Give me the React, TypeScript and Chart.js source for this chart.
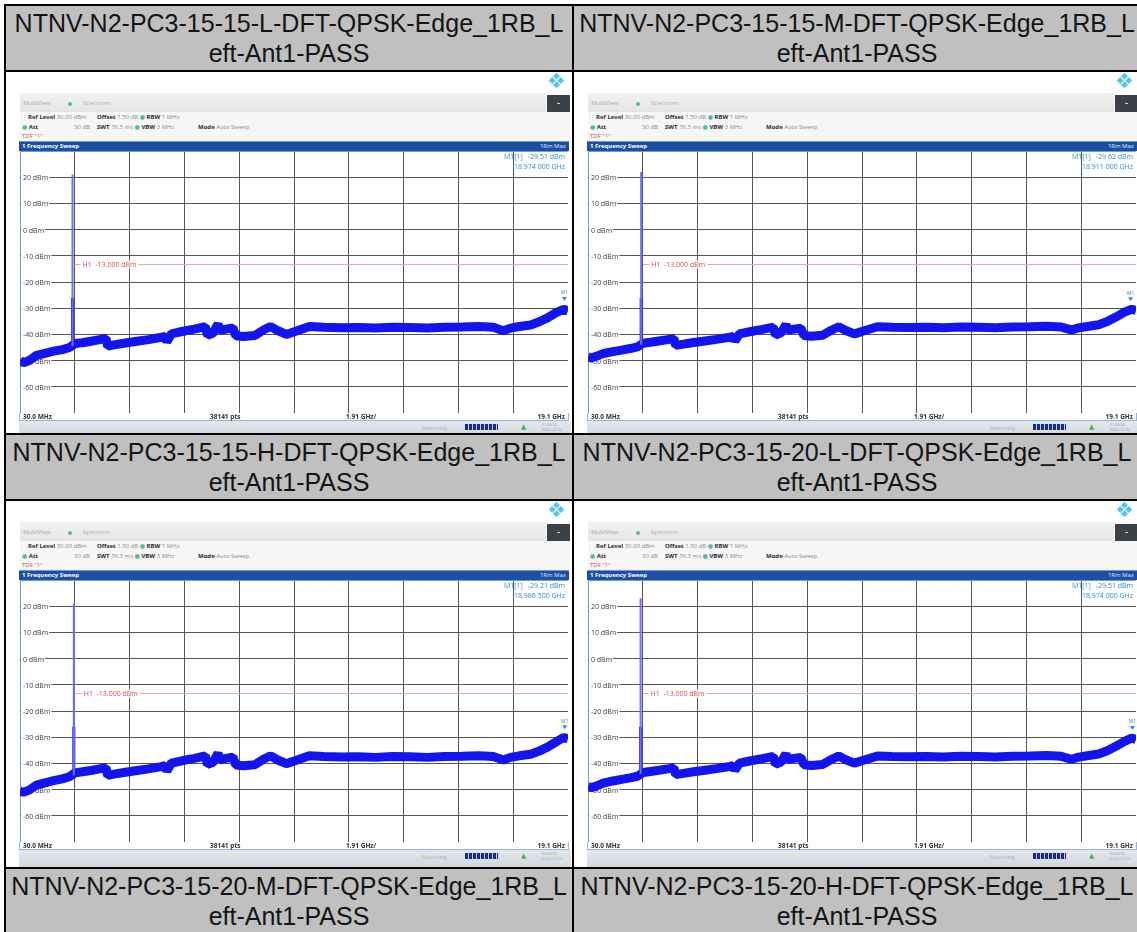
import React, { useEffect, useRef } from 'react';
import { Chart, registerables } from 'chart.js';

Chart.register(...registerables);

// ---------- data ----------
const TITLES = [
  'NTNV-N2-PC3-15-15-L-DFT-QPSK-Edge_1RB_Left-Ant1-PASS',
  'NTNV-N2-PC3-15-15-M-DFT-QPSK-Edge_1RB_Left-Ant1-PASS',
  'NTNV-N2-PC3-15-15-H-DFT-QPSK-Edge_1RB_Left-Ant1-PASS',
  'NTNV-N2-PC3-15-20-L-DFT-QPSK-Edge_1RB_Left-Ant1-PASS',
  'NTNV-N2-PC3-15-20-M-DFT-QPSK-Edge_1RB_Left-Ant1-PASS',
  'NTNV-N2-PC3-15-20-H-DFT-QPSK-Edge_1RB_Left-Ant1-PASS',
];

const X_MIN_GHZ = 0.03;
const X_MAX_GHZ = 19.1;
const X_DIVS_GHZ = [0.03, 1.937, 3.844, 5.751, 7.658, 9.565, 11.472, 13.379, 15.286, 17.193, 19.1];
const Y_MIN_DBM = -70;
const Y_MAX_DBM = 30;
const Y_LABEL_TICKS = [20, 10, 0, -10, -20, -30, -40, -50, -60];
const LIMIT_DBM = -13;
const LIMIT_LABEL = 'H1  -13.000 dBm';
const FREQ_BAR_LABELS = ['30.0 MHz', '38141 pts', '1.91 GHz/', '19.1 GHz'];

const TRACE_GHZ = [
  0.03, 0.15, 0.35, 0.6, 0.9, 1.2, 1.5, 1.75, 1.95, 2.2,
  2.5, 2.8, 3.02, 3.08, 3.3, 3.7, 4.1, 4.5, 4.9, 5.08,
  5.14, 5.3, 5.7, 6.1, 6.48, 6.55, 6.75, 6.92, 6.98, 7.2,
  7.44, 7.54, 7.8, 8.2, 8.5, 8.75, 9.0, 9.3, 9.7, 10.1,
  10.6, 11.2, 11.8, 12.4, 13.0, 13.6, 14.2, 14.8, 15.4, 16.0,
  16.5, 16.85, 17.1, 17.4, 17.8, 18.1, 18.4, 18.7, 18.95, 19.1,
];

const TRACE_15_15_L = [
  -50, -50.8, -50, -48, -47.2, -46.4, -45.8, -45, -43.5, -43.2,
  -42.6, -42, -41.5, -44.5, -44, -43.3, -42.6, -42, -41.2, -40.8,
  -42.8, -39.8, -38.8, -38, -37, -40.3, -39.5, -36, -38.5, -38,
  -37.5, -40.5, -40.8, -40.4, -38.3, -37, -38.6, -40, -38.5, -37,
  -37.3, -37.5, -37.4, -37.6, -37.3, -37.4, -37.6, -37.3, -37.2, -37,
  -37.3, -38.6, -37.6, -37, -36.4, -35.2, -33.6, -31.6, -30.4, -31,
];
const TRACE_15_15_M = [
  -48.5, -49, -48.2, -47.2, -46.6, -46, -45.4, -44.8, -43.4, -43,
  -42.5, -42, -41.6, -44.2, -43.8, -43.1, -42.5, -41.9, -41.2, -40.8,
  -42.5, -39.8, -38.9, -38.1, -37.2, -40.2, -39.4, -36.2, -38.4, -38,
  -37.6, -40.4, -40.7, -40.3, -38.4, -37.1, -38.5, -39.8, -38.4, -37.1,
  -37.3, -37.4, -37.3, -37.5, -37.2, -37.3, -37.5, -37.2, -37.1, -36.9,
  -37.2, -38.3, -37.5, -37, -36.3, -35.1, -33.4, -31.5, -30.4, -30.8,
];
const TRACE_15_15_H = [
  -50.6, -51, -50.2, -48.3, -47.4, -46.6, -45.9, -45.1, -43.6, -43.2,
  -42.7, -42.1, -41.6, -44.6, -44.1, -43.4, -42.7, -42.1, -41.3, -40.9,
  -42.9, -39.9, -38.9, -38.1, -37.1, -40.4, -39.6, -36.1, -38.6, -38.1,
  -37.6, -40.6, -40.9, -40.5, -38.4, -37.1, -38.7, -40.1, -38.6, -37.1,
  -37.4, -37.6, -37.5, -37.7, -37.4, -37.5, -37.7, -37.4, -37.3, -37.1,
  -37.4, -38.7, -37.7, -37.1, -36.5, -35.3, -33.7, -31.7, -30.1, -30.6,
];
const TRACE_15_20_L = [
  -48.8, -49.3, -48.5, -47.4, -46.7, -46.1, -45.5, -44.9, -43.5, -43.1,
  -42.6, -42.1, -41.7, -44.3, -43.9, -43.2, -42.6, -42, -41.3, -40.9,
  -42.6, -39.9, -39, -38.2, -37.3, -40.3, -39.5, -36.3, -38.5, -38.1,
  -37.7, -40.5, -40.8, -40.4, -38.5, -37.2, -38.6, -39.9, -38.5, -37.2,
  -37.4, -37.5, -37.4, -37.6, -37.3, -37.4, -37.6, -37.3, -37.2, -37,
  -37.3, -38.4, -37.6, -37.1, -36.4, -35.2, -33.5, -31.6, -30.3, -30.9,
];
const TRACES = [TRACE_15_15_L, TRACE_15_15_M, TRACE_15_15_H, TRACE_15_20_L];

const SPIKE_GHZ = [1.8575, 1.88, 1.9025, 1.86];
const SPIKE_BASE_DBM = [-44.5, -44, -44.6, -44];
const SPIKE_MID_DBM = [-26, -26, -26, -26];
const SPIKE_TOP_DBM = [21, 22, 21, 23];

const MARKER_DBM = [-29.51, -29.62, -29.21, -29.51];
const MARKER_GHZ = [18.974, 18.911, 18.9865, 18.974];
const MARKER_FREQ_LABELS = ['18.974 000 GHz', '18.911 000 GHz', '18.986 500 GHz', '18.974 000 GHz'];

// ---------- layout ----------
const SMALL_FONT = '"Open Sans", "DejaVu Sans", sans-serif';
const PL = 14, PT = 79, PW = 548, PH = 262;

function makeConfig(p: number): any {
  const trace = TRACES[p];
  const plugin = {
    id: 'decor',
    beforeDatasetsDraw(chart: any) {
      const { ctx, chartArea, scales } = chart;
      const { left, right } = chartArea;
      const x = scales.x, y = scales.y;
      ctx.save();
      ctx.font = `7px ${SMALL_FONT}`;
      ctx.textBaseline = 'middle';
      ctx.textAlign = 'left';
      for (const v of Y_LABEL_TICKS) {
        const py = Math.round(y.getPixelForValue(v)) + 0.5;
        const label = `${v} dBm`;
        const w = ctx.measureText(label).width;
        ctx.fillStyle = '#ffffff';
        ctx.fillRect(left + 1, py - 4, w + 3, 8);
        ctx.fillStyle = '#3c3c3c';
        ctx.fillText(label, left + 3, py);
      }
      const ly = Math.round(y.getPixelForValue(LIMIT_DBM)) + 0.5;
      const lx0 = x.getPixelForValue(SPIKE_GHZ[p]) + 2;
      ctx.strokeStyle = '#f3a3a3';
      ctx.lineWidth = 1;
      ctx.beginPath();
      ctx.moveTo(lx0, ly);
      ctx.lineTo(right, ly);
      ctx.stroke();
      const lw = ctx.measureText(LIMIT_LABEL).width;
      ctx.fillStyle = '#ffffff';
      ctx.fillRect(lx0 + 6, ly - 4, lw + 4, 8);
      ctx.fillStyle = '#e24a4a';
      ctx.fillText(LIMIT_LABEL, lx0 + 8, ly);
      ctx.restore();
    },
    afterDraw(chart: any) {
      const { ctx, chartArea, scales } = chart;
      const { right, top } = chartArea;
      const x = scales.x, y = scales.y;
      ctx.save();
      ctx.font = `7px ${SMALL_FONT}`;
      ctx.textBaseline = 'middle';
      ctx.fillStyle = '#2f8ad8';
      ctx.textAlign = 'left';
      ctx.fillText('M1[1]', right - 64, top + 6);
      ctx.textAlign = 'right';
      ctx.fillText(`${MARKER_DBM[p].toFixed(2)} dBm`, right - 3, top + 6);
      ctx.fillText(MARKER_FREQ_LABELS[p], right - 3, top + 16);
      const mx = x.getPixelForValue(MARKER_GHZ[p]);
      const my = y.getPixelForValue(MARKER_DBM[p]) - 7;
      ctx.beginPath();
      ctx.moveTo(mx - 2.5, my - 3);
      ctx.lineTo(mx + 2.5, my - 3);
      ctx.lineTo(mx, my + 1);
      ctx.closePath();
      ctx.fill();
      ctx.font = `5px ${SMALL_FONT}`;
      ctx.textAlign = 'center';
      ctx.fillText('M1', mx, my - 7);
      ctx.restore();
    },
  };
  const edge = (c: any) => (c.index === 0 || c.index === 10 ? '#6d9ddb' : '#555555');
  return {
    type: 'line',
    data: {
      datasets: [
        {
          data: [{ x: SPIKE_GHZ[p], y: SPIKE_BASE_DBM[p] }, { x: SPIKE_GHZ[p], y: SPIKE_TOP_DBM[p] }],
          borderColor: '#6e6efc',
          borderWidth: 2,
          pointRadius: 0,
        },
        {
          data: [{ x: SPIKE_GHZ[p], y: SPIKE_BASE_DBM[p] }, { x: SPIKE_GHZ[p], y: SPIKE_MID_DBM[p] }],
          borderColor: '#1717f2',
          borderWidth: 3,
          pointRadius: 0,
        },
        {
          data: TRACE_GHZ.map((f, i) => ({ x: f, y: trace[i] })),
          borderColor: '#1414ee',
          borderWidth: 9,
          borderJoinStyle: 'bevel',
          pointRadius: 0,
          tension: 0,
        },
      ],
    },
    options: {
      animation: false,
      responsive: true,
      maintainAspectRatio: false,
      events: [],
      layout: { padding: 0 },
      plugins: { legend: { display: false }, tooltip: { enabled: false } },
      scales: {
        x: {
          type: 'linear',
          min: X_MIN_GHZ,
          max: X_MAX_GHZ,
          afterBuildTicks: (s: any) => {
            s.ticks = X_DIVS_GHZ.map((v) => ({ value: v }));
          },
          ticks: { display: false },
          grid: { color: edge, lineWidth: 1, drawTicks: false, tickLength: 0 },
          border: { display: false },
        },
        y: {
          type: 'linear',
          min: Y_MIN_DBM,
          max: Y_MAX_DBM,
          ticks: { display: false, stepSize: 10 },
          grid: { color: edge, lineWidth: 1, drawTicks: false, tickLength: 0 },
          border: { display: false },
        },
      },
    },
    plugins: [plugin],
  };
}

const txt = (extra: any): any => ({
  position: 'absolute',
  fontFamily: SMALL_FONT,
  fontSize: 6,
  lineHeight: '8px',
  whiteSpace: 'nowrap',
  ...extra,
});

function Logo({ left, top }: { left: number; top: number }) {
  const q = (l: number, t: number) => (
    <div style={{ position: 'absolute', left: l, top: t, width: 5, height: 5, background: '#55c4ea' }} />
  );
  return (
    <div style={{ position: 'absolute', left, top, width: 11, height: 11, transform: 'rotate(45deg)' }}>
      {q(0, 0)}
      {q(6, 0)}
      {q(0, 6)}
      {q(6, 6)}
    </div>
  );
}

function Panel({ p, left, top, width, height }: { p: number; left: number; top: number; width: number; height: number }) {
  const ref = useRef<HTMLCanvasElement>(null);
  useEffect(() => {
    const chart = new Chart(ref.current as HTMLCanvasElement, makeConfig(p));
    return () => chart.destroy();
  }, [p]);
  const bold = { fontWeight: 700, color: '#2a2a2a' };
  const val = { color: '#8a8a8a' };
  const dot = { color: '#4fc08a' };
  return (
    <div style={{ position: 'absolute', left, top, width, height, background: '#ffffff', overflow: 'hidden' }}>
      <Logo left={545} top={3} />
      {/* toolbar */}
      <div style={{ position: 'absolute', left: PL, top: 21, width: 526, height: 19, background: 'linear-gradient(#f3f3f3, #e4e4e4)' }} />
      <div style={txt({ left: 17, top: 27, color: '#a4a4a4' })}>MultiView</div>
      <div style={{ position: 'absolute', left: 62, top: 30, width: 4, height: 4, borderRadius: 2, background: '#4fc08a' }} />
      <div style={txt({ left: 77, top: 27, color: '#b2b2b2' })}>Spectrum</div>
      <div style={{ position: 'absolute', left: 541, top: 23, width: 23, height: 17, background: '#3b4147' }} />
      <div style={{ position: 'absolute', left: 551, top: 31, width: 3, height: 1, background: '#d0d0d0' }} />
      {/* info */}
      <div style={{ position: 'absolute', left: PL, top: 40, width: 550, height: 29, background: '#f6f6f6' }} />
      <div style={txt({ left: 22, top: 41 })}>
        <span style={bold}>Ref Level</span> <span style={val}>30.00 dBm</span>
      </div>
      <div style={txt({ left: 91, top: 41 })}>
        <span style={bold}>Offset</span> <span style={val}>1.50 dB</span> <span style={dot}>●</span> <span style={bold}>RBW</span>{' '}
        <span style={val}>1 MHz</span>
      </div>
      <div style={txt({ left: 16, top: 51 })}>
        <span style={dot}>●</span> <span style={bold}>Att</span>
      </div>
      <div style={txt({ left: 68, top: 51 })}>
        <span style={val}>30 dB</span>
      </div>
      <div style={txt({ left: 91, top: 51 })}>
        <span style={bold}>SWT</span> <span style={val}>76.3 ms</span> <span style={dot}>●</span> <span style={bold}>VBW</span>{' '}
        <span style={val}>3 MHz</span>
      </div>
      <div style={txt({ left: 192, top: 51 })}>
        <span style={bold}>Mode</span> <span style={val}>Auto Sweep</span>
      </div>
      <div style={txt({ left: 16, top: 60, color: '#d64545' })}>TDF "1"</div>
      {/* title bar */}
      <div style={{ position: 'absolute', left: PL - 1, top: 69, width: PW + 2, height: 10, background: '#1f4fa3', borderTop: '1px solid #6a9be0', boxSizing: 'border-box' }} />
      <div style={txt({ left: 16, top: 70, color: '#ffffff', fontWeight: 700 })}>1 Frequency Sweep</div>
      <div style={txt({ left: 520, top: 70, width: 40, textAlign: 'right', color: '#dfe8f8' })}>1Rm Max</div>
      {/* plot */}
      <div style={{ position: 'absolute', left: PL, top: PT, width: PW, height: PH }}>
        <canvas ref={ref} />
      </div>
      {/* frequency bar */}
      <div style={{ position: 'absolute', left: PL - 1, top: PT + PH, width: PW + 2, height: 8, background: '#ffffff', borderBottom: '1px solid #8fb6e6', borderLeft: '1px solid #8fb6e6', borderRight: '1px solid #8fb6e6', boxSizing: 'border-box' }} />
      <div style={txt({ left: PL + 3, top: PT + PH, fontSize: 6.5, fontWeight: 700, color: '#333' })}>{FREQ_BAR_LABELS[0]}</div>
      <div style={txt({ left: PL + 190, top: PT + PH, fontSize: 6.5, fontWeight: 700, color: '#333' })}>{FREQ_BAR_LABELS[1]}</div>
      <div style={txt({ left: PL + 326, top: PT + PH, fontSize: 6.5, fontWeight: 700, color: '#333' })}>{FREQ_BAR_LABELS[2]}</div>
      <div style={txt({ left: PL + PW - 43, top: PT + PH, width: 40, textAlign: 'right', fontSize: 6.5, fontWeight: 700, color: '#333' })}>{FREQ_BAR_LABELS[3]}</div>
      {/* status bar */}
      <div style={{ position: 'absolute', left: PL - 1, top: PT + PH + 8, width: PW + 4, height: 20, background: 'linear-gradient(#e3e7eb, #cfd5dc)' }} />
      <div style={txt({ left: 416, top: PT + PH + 11, fontSize: 5, color: '#a9b0b8' })}>Measuring...</div>
      <div style={{ position: 'absolute', left: 459, top: PT + PH + 11, width: 33, height: 6, background: 'repeating-linear-gradient(90deg, #1b2790 0px, #1b2790 3px, #c8d0e0 3px, #c8d0e0 4px)' }} />
      <div style={txt({ left: 515, top: PT + PH + 10, fontSize: 7, color: '#4cae5c' })}>▲</div>
      <div style={txt({ left: 535, top: PT + PH + 9, fontSize: 4, lineHeight: '5px', color: '#9aa2ab' })}>
        10:24:36
        <br />
        2024-07-22
      </div>
    </div>
  );
}

function Header({ title, left, top, width, height }: { title: string; left: number; top: number; width: number; height: number }) {
  return (
    <div
      style={{
        position: 'absolute',
        left,
        top,
        width,
        height,
        background: '#c0c0c0',
        fontFamily: '"Liberation Sans", Arial, sans-serif',
        fontSize: 25,
        lineHeight: '30px',
        color: '#141414',
        textAlign: 'center',
        whiteSpace: 'nowrap',
        overflow: 'hidden',
      }}
    >
      <div style={{ paddingTop: 2 }}>{title.slice(0, 39)}</div>
      <div>{title.slice(39)}</div>
    </div>
  );
}

const COL_X = [6, 574];
const COL_W = [566, 566];
const HEADER_ROWS = [
  { top: 6, height: 64 },
  { top: 435, height: 64 },
  { top: 869, height: 63 },
];
const IMAGE_ROWS = [
  { top: 72, height: 361 },
  { top: 501, height: 366 },
];
const H_LINES = [4, 70, 433, 499, 867];
const V_LINES = [4, 572];

export default function App() {
  return (
    <div style={{ position: 'absolute', left: 0, top: 0, width: 1137, height: 932, overflow: 'hidden', background: '#ffffff' }}>
      {HEADER_ROWS.map((r, ri) =>
        COL_X.map((cx, ci) => (
          <Header key={`h${ri}${ci}`} title={TITLES[ri * 2 + ci]} left={cx} top={r.top} width={COL_W[ci]} height={r.height} />
        ))
      )}
      {IMAGE_ROWS.map((r, ri) =>
        COL_X.map((cx, ci) => (
          <Panel key={`p${ri}${ci}`} p={ri * 2 + ci} left={cx} top={r.top} width={COL_W[ci]} height={r.height} />
        ))
      )}
      {H_LINES.map((y) => (
        <div key={`hl${y}`} style={{ position: 'absolute', left: 4, top: y, width: 1140, height: 2, background: '#000' }} />
      ))}
      {V_LINES.map((x) => (
        <div key={`vl${x}`} style={{ position: 'absolute', left: x, top: 4, width: 2, height: 940, background: '#000' }} />
      ))}
    </div>
  );
}
